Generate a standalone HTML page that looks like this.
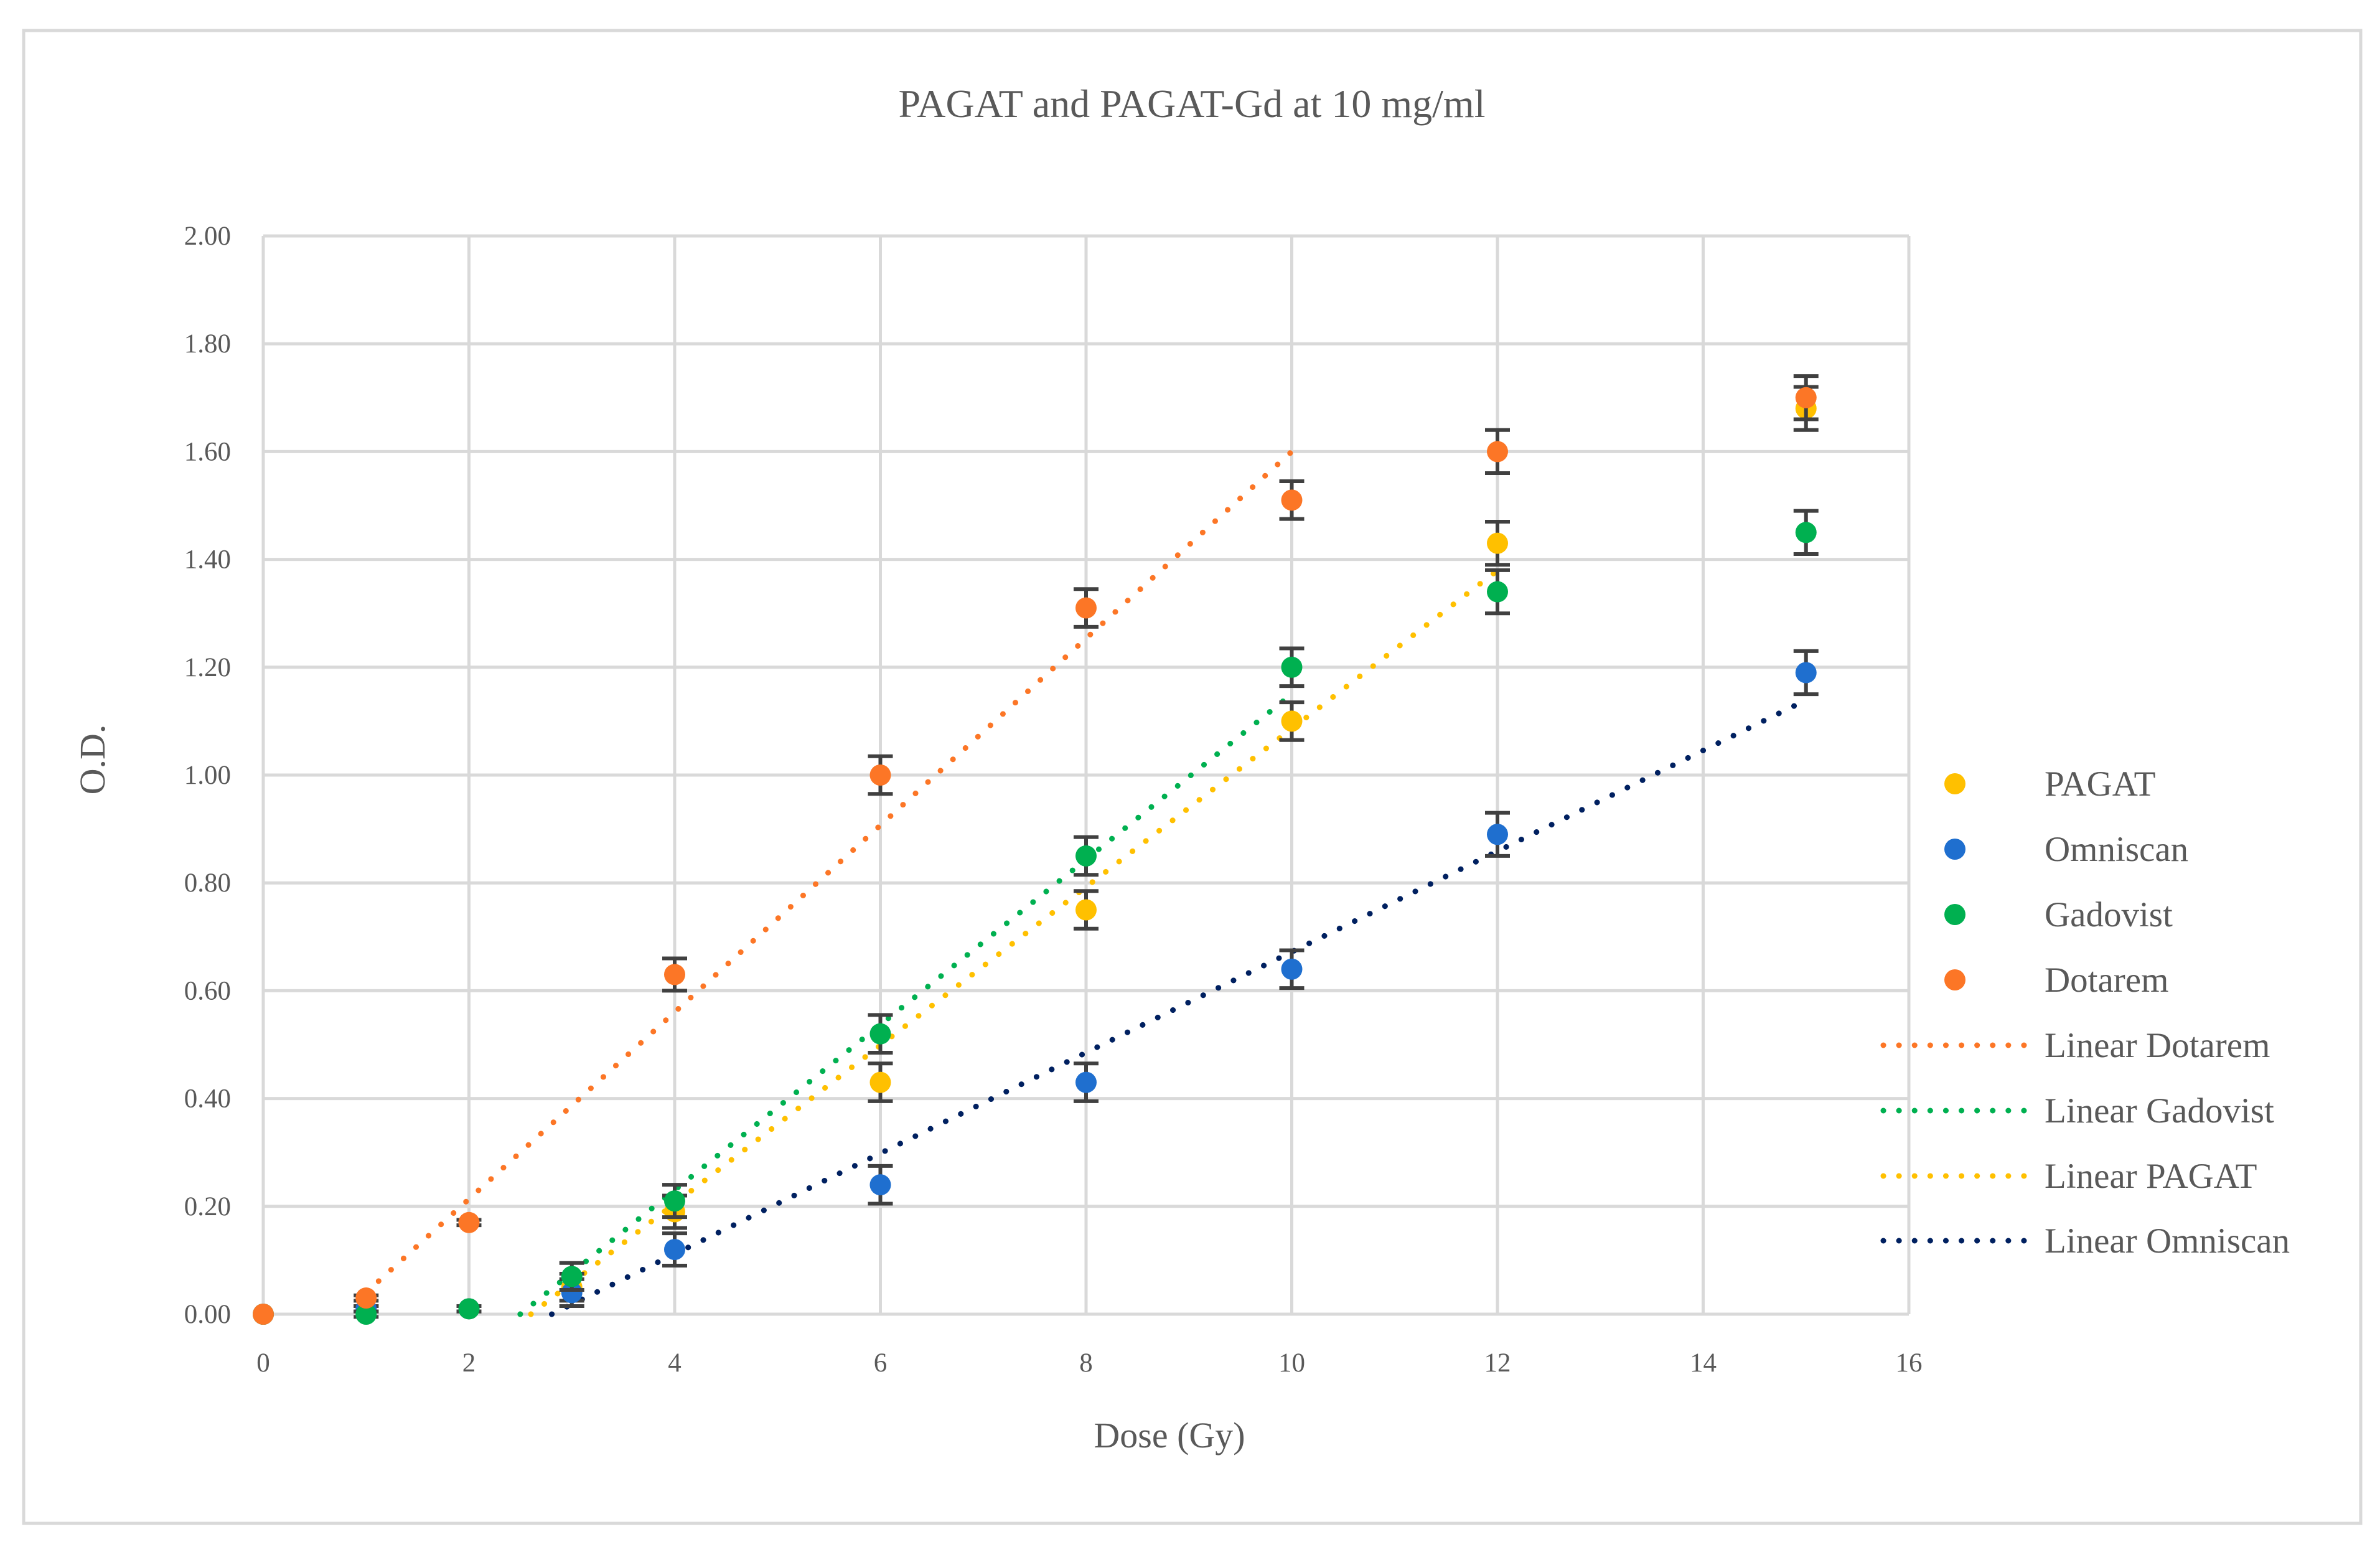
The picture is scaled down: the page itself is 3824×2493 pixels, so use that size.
<!DOCTYPE html>
<html><head><meta charset="utf-8">
<style>
html,body{margin:0;padding:0;background:#fff;}
svg{display:block;font-family:"Liberation Serif",serif;}
</style></head>
<body>
<svg id="chart" width="3824" height="2493" viewBox="0 0 3824 2493">
<rect x="38" y="49" width="3755" height="2398" fill="#fff" stroke="#d9d9d9" stroke-width="5"/>
<text x="1915" y="188" text-anchor="middle" font-size="64" fill="#595959">PAGAT and PAGAT-Gd at 10 mg/ml</text>
<g id="grid"></g>
<g id="trends"></g>
<g id="points"></g>
<text transform="translate(168,1220) rotate(-90)" text-anchor="middle" font-size="58" fill="#595959">O.D.</text>
<text x="1879" y="2325" text-anchor="middle" font-size="58" fill="#595959">Dose (Gy)</text>
<g id="legend"></g>
</svg>
<script>
const xTicks=[0,2,4,6,8,10,12,14,16];
const yTicks=[0,0.2,0.4,0.6,0.8,1.0,1.2,1.4,1.6,1.8,2.0];
const doses=[0,1,2,3,4,6,8,10,12,15];
const pagat=[0,0.01,0.01,0.05,0.19,0.43,0.75,1.10,1.43,1.68];
const omniscan=[0,0.01,0.01,0.04,0.12,0.24,0.43,0.64,0.89,1.19];
const gadovist=[0,0.00,0.01,0.07,0.21,0.52,0.85,1.20,1.34,1.45];
const dotarem=[0,0.03,0.17,null,0.63,1.00,1.31,1.51,1.60,1.70];
const errs=[0,0.005,0.005,0.025,0.03,0.035,0.035,0.035,0.04,0.04];
const seriesNames=["PAGAT","Omniscan","Gadovist","Dotarem"];
const trendNames=["Linear Dotarem","Linear Gadovist","Linear PAGAT","Linear Omniscan"];
const trendSlopes=[0.1733,0.1533,0.1468,0.0934];
const trendIntercepts=[-0.133,-0.383,-0.382,-0.262];
const trendStart=[1,0,0,0];
const trendEnd=[10,10,12,15];

const NS="http://www.w3.org/2000/svg";
const X0=423,X1=3067,Y0=2111,Y1=379;
const xs=v=>X0+(v-0)/16*(X1-X0);
const ys=v=>Y0-(v/2)*(Y0-Y1);
function mk(tag,attrs,parent){const e=document.createElementNS(NS,tag);for(const k in attrs)e.setAttribute(k,attrs[k]);parent.appendChild(e);return e;}
const grid=document.getElementById('grid');
yTicks.forEach(t=>{
  const l=mk('line',{x1:X0,x2:X1,y1:ys(t),y2:ys(t),stroke:'#d9d9d9','stroke-width':5},grid);
  
  
  const tx=mk('text',{x:X0-52,y:ys(t)+14,'text-anchor':'end','font-size':43,fill:'#595959'},grid);
  tx.textContent=t.toFixed(2);
  
  
});
xTicks.forEach(t=>{
  const l=mk('line',{x1:xs(t),x2:xs(t),y1:Y1,y2:Y0,stroke:'#d9d9d9','stroke-width':5},grid);
  
  
  const tx=mk('text',{x:xs(t),y:Y0+92,'text-anchor':'middle','font-size':43,fill:'#595959'},grid);
  tx.textContent=String(t);
  
  
});
const tColors=["#fc7626","#00b050","#ffc000","#002060"];
const trends=document.getElementById('trends');
trendNames.forEach((n,i)=>{
  const m=trendSlopes[i],b=trendIntercepts[i];
  const xa=Math.max(trendStart[i],-b/m),xb=trendEnd[i];
  const l=mk('line',{x1:xs(xa),y1:ys(m*xa+b),x2:xs(xb),y2:ys(m*xb+b),stroke:tColors[i],'stroke-width':9,'stroke-linecap':'round','stroke-dasharray':'0.1 27'},trends);
  
  
});
const sData=[pagat,omniscan,gadovist,dotarem];
const sColors=["#ffc000","#1f6fcf","#00b050","#fc7626"];
const pts=document.getElementById('points');
sData.forEach((arr,si)=>{
  arr.forEach((v,i)=>{
    if(v===null)return;
    const cx=xs(doses[i]),cy=ys(v),e=errs[i];
    if(e>0){
      const eb=mk('path',{d:`M${cx},${ys(v+e)}V${ys(v-e)}M${cx-20},${ys(v+e)}h40M${cx-20},${ys(v-e)}h40`,stroke:'#404040','stroke-width':6,fill:'none'},pts);
      
      
    }
    const c=mk('circle',{cx:cx,cy:cy,r:17,fill:sColors[si]},pts);
    
    
  });
});
const lg=document.getElementById('legend');
const rowsY=[1259,1364,1469,1574,1679,1784,1889,1993];
seriesNames.forEach((n,i)=>{
  const c=mk('circle',{cx:3141,cy:rowsY[i],r:17,fill:sColors[i]},lg);
  
  
  const t=mk('text',{x:3285,y:rowsY[i]+19,'font-size':57,fill:'#595959'},lg);
  t.textContent=n;
  
  
});
trendNames.forEach((n,i)=>{
  const y=rowsY[4+i];
  const l=mk('line',{x1:3026,x2:3252,y1:y,y2:y,stroke:tColors[i],'stroke-width':9,'stroke-linecap':'round','stroke-dasharray':'0.1 25'},lg);
  
  
  const t=mk('text',{x:3285,y:y+19,'font-size':57,fill:'#595959'},lg);
  t.textContent=n;
  
  
});
</script>
</body></html>
